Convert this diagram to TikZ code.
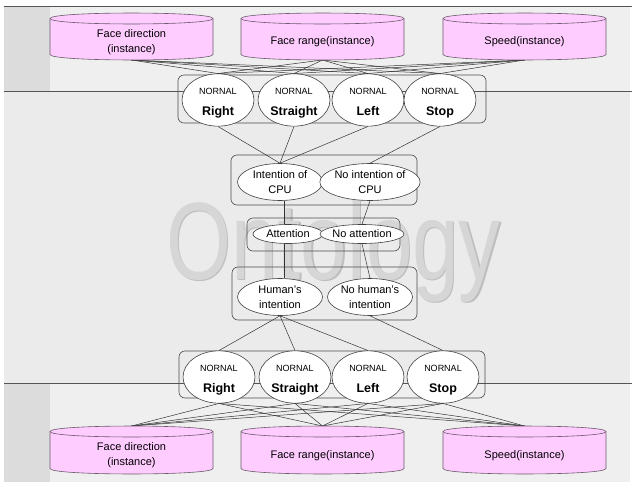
\documentclass[tikz,border=0pt]{standalone}
\usepackage{fontspec}
\setmainfont{Liberation Sans}
\usepackage{graphicx}
\usetikzlibrary{shapes.geometric}

\definecolor{bandcol}{HTML}{EFEFEF}
\definecolor{midcol}{HTML}{EBEBEB}
\definecolor{sidecol}{HTML}{DCDCDC}
\definecolor{cylpink}{HTML}{FFCCFF}
\definecolor{cylline}{HTML}{6A5A6A}
\definecolor{rulecol}{HTML}{555555}
\definecolor{wmfill}{HTML}{D6D6D6}
\definecolor{wmshade}{HTML}{BEBEBE}

\tikzset{
  state/.style={ellipse, draw=black!75, fill=white, line width=0.6pt, inner sep=0pt, align=center},
  motion/.style={state, minimum width=72pt, minimum height=43pt, font=\fontsize{12.5}{17}\selectfont},
  thought/.style={state, minimum width=85pt, minimum height=37pt, font=\fontsize{11}{15}\selectfont},
  heed/.style={state, minimum width=70pt, minimum height=19pt, font=\fontsize{11}{13}\selectfont},
  group/.style={draw=black!70, rounded corners=6pt, line width=0.6pt},
  link/.style={draw=black!80, line width=0.5pt},
  cyltext/.style={align=center, font=\fontsize{11}{15}\selectfont, inner sep=0pt},
  rule/.style={draw=rulecol, line width=0.8pt},
}

% motion state label: small "NORNAL" above a bold direction word;
% the struts give every label the same height and depth and set it a
% little below the centre of its ellipse
\newcommand\motionlabel[1]{{\fontsize{9}{10}\selectfont\rule{0pt}{13pt}NORNAL}\\[4pt]{\bfseries\rule[-3pt]{0pt}{3pt}#1}}

% database cylinder: name, centre x, top y, bottom y, label
\newcommand\dbcyl[5]{%
  \pgfmathsetmacro\cylL{#2-81.5}%
  \pgfmathsetmacro\cylR{#2+81.5}%
  \pgfmathsetmacro\cylA{#3+5.5}%
  \pgfmathsetmacro\cylB{#4-5.5}%
  \filldraw[fill=cylpink, draw=cylline, line width=0.6pt]
    (\cylL,\cylA) -- (\cylL,\cylB)
    .. controls (\cylL,\cylB+7.3) and (\cylR,\cylB+7.3) .. (\cylR,\cylB)
    -- (\cylR,\cylA)
    .. controls (\cylR,\cylA-7.3) and (\cylL,\cylA-7.3) .. cycle;
  \draw[cylline, line width=0.6pt]
    (\cylL,\cylA) .. controls (\cylL,\cylA+7.3) and (\cylR,\cylA+7.3) .. (\cylR,\cylA);
  \node[cyltext] (#1) at (#2,{(#3+#4)/2+5.5}) {#5};
}

\begin{document}
\begin{tikzpicture}[x=1pt, y=-1pt]
\useasboundingbox (0,0) rectangle (632,482);

% page background with the two instance bands
\fill[white] (0,0) rectangle (632,482);
\fill[bandcol] (4,6) rectangle (630,91);
\fill[sidecol] (4,6) rectangle (50,91);
\fill[midcol] (4,91) rectangle (630,383);
\fill[bandcol] (4,383) rectangle (630,482);
\fill[sidecol] (4,383) rectangle (50,482);
\draw[rule] (4,6) -- (632,6);
\draw[rule] (4,91) -- (632,91);
\draw[rule] (4,383) -- (632,383);

% watermark
\node[text=wmshade, anchor=base, inner sep=0pt] at (335,280.5)
  {\scalebox{0.76}[1]{\fontsize{110}{110}\selectfont Ontology}};
\node[text=wmfill, anchor=base, inner sep=0pt] (wm) at (333.5,279)
  {\scalebox{0.76}[1]{\fontsize{110}{110}\selectfont Ontology}};

% end points of the connectors on the instance cylinders (drawn later)
\coordinate (cA-bot) at (131.5,60);
\coordinate (cB-bot) at (322.5,60);
\coordinate (cC-bot) at (524.5,60);
\coordinate (dA-top) at (131.5,426);
\coordinate (dB-top) at (322.5,426);
\coordinate (dC-top) at (524.5,426);

% groups
\draw[group] (178,75) rectangle (486,123);
\draw[group] (231,155) rectangle (417,205);
\draw[group] (247,218) rectangle (400,251);
\draw[group] (232,267) rectangle (417,320);
\draw[group] (179,351) rectangle (485,398);

% upper motion states
\node[motion] (tR) at (218,100) {\motionlabel{Right}};
\node[motion] (tS) at (294,100) {\motionlabel{Straight}};
\node[motion] (tL) at (368,100) {\motionlabel{Left}};
\node[motion] (tP) at (440,100) {\motionlabel{Stop}};

% intention / attention states
\node[thought] (cI) at (280,182) {Intention of\\CPU};
\node[thought] (cN) at (370,182) {No intention of\\CPU};
\node[heed] (aY) at (288,234) {Attention};
\node[heed] (aN) at (362,234) {No attention};
\node[thought] (hY) at (280,297) {Human's\\intention};
\node[thought] (hN) at (370,297) {No human's\\intention};

% lower motion states
\node[motion] (bR) at (219,377) {\motionlabel{Right}};
\node[motion] (bS) at (295,377) {\motionlabel{Straight}};
\node[motion] (bL) at (368,377) {\motionlabel{Left}};
\node[motion] (bP) at (443,377) {\motionlabel{Stop}};

% connectors
\foreach \c in {cA,cB,cC}
  \foreach \e in {tR,tS,tL,tP}
    \draw[link] (\c-bot) -- (\e.north);
\foreach \e in {tR,tS,tL}
  \draw[link] (\e.south) -- (cI.north);
\draw[link] (tP.south) -- (cN.north);
\draw[link] ([xshift=4pt]cI.south) -- ([xshift=-4pt]aY.north);
\draw[link] (cN.south) -- (aN.north);
\draw[link] ([xshift=-4pt]aY.south) -- ([xshift=4pt]hY.north);
\draw[link] (aN.south) -- (hN.north);
\foreach \e in {bR,bS,bL}
  \draw[link] (hY.south) -- (\e.north);
\draw[link] (hN.south) -- (bP.north);
\foreach \e in {bR,bS,bL,bP}
  \foreach \c in {dA,dB,dC}
    \draw[link] (\e.south) -- (\c-top);

% instance cylinders
\dbcyl{cA}{131.5}{13}{60}{Face direction\\(instance)}
\dbcyl{cB}{322.5}{13}{60}{Face range(instance)}
\dbcyl{cC}{524.5}{13}{60}{Speed(instance)}
\dbcyl{dA}{131.5}{426}{474}{Face direction\\(instance)}
\dbcyl{dB}{322.5}{426}{474}{Face range(instance)}
\dbcyl{dC}{524.5}{426}{474}{Speed(instance)}
\end{tikzpicture}
\end{document}
